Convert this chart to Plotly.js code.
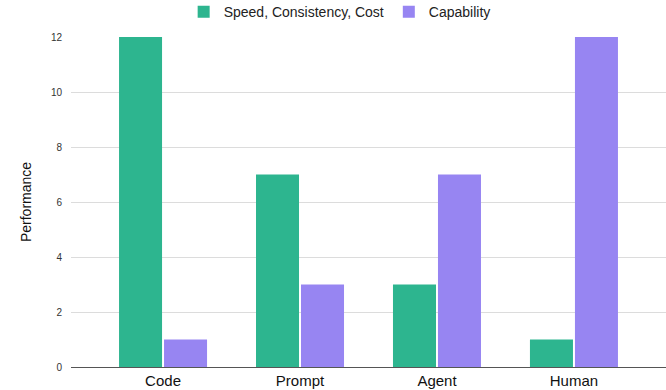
<!DOCTYPE html>
<html>
<head>
<meta charset="utf-8">
<script src="https://cdn.plot.ly/plotly-3.0.1.min.js"></script>
<style>
  html, body { margin: 0; padding: 0; background: #fff; }
  #chart { width: 666px; height: 390px; }
</style>
</head>
<body>
<div id="chart"></div>
<script>
// Approaches compared on two criteria
const categories = ['Code', 'Prompt', 'Agent', 'Human'];
const speedConsistencyCost = [12, 7, 3, 1];
const capability = [1, 3, 7, 12];
const seriesNames = ['Speed, Consistency, Cost', 'Capability'];
const yTicks = [0, 2, 4, 6, 8, 10, 12];

const font = 'Liberation Sans, Arial, sans-serif';

const traces = [
  {
    type: 'bar',
    name: seriesNames[0],
    x: categories,
    y: speedConsistencyCost,
    marker: { color: '#2db58f' },
    hoverinfo: 'x+y'
  },
  {
    type: 'bar',
    name: seriesNames[1],
    x: categories,
    y: capability,
    marker: { color: '#9785f2' },
    hoverinfo: 'x+y'
  }
];

const layout = {
  width: 666,
  height: 390,
  margin: { l: 71, r: 0, t: 37, b: 23, autoexpand: false },
  paper_bgcolor: '#ffffff',
  plot_bgcolor: '#ffffff',
  font: { family: font, color: '#222' },
  barmode: 'group',
  bargap: 0.343,
  bargroupgap: 0.044,
  showlegend: true,
  legend: {
    orientation: 'h',
    xref: 'container',
    yref: 'container',
    x: 0.51,
    xanchor: 'center',
    y: 0.969,
    yanchor: 'middle',
    font: { family: font, size: 14, color: '#222' },
    itemwidth: 30,
    traceorder: 'normal'
  },
  xaxis: {
    type: 'category',
    range: [-0.672, 3.672],
    automargin: false,
    tickangle: 0,
    showgrid: false,
    showline: false,
    zeroline: false,
    ticks: '',
    tickfont: { family: font, size: 15, color: '#111' },
    ticklabelstandoff: 3
  },
  yaxis: {
    range: [0, 12],
    automargin: false,
    tickvals: yTicks,
    ticktext: yTicks.map(String),
    showgrid: true,
    gridcolor: '#dcdcdc',
    gridwidth: 1,
    zeroline: true,
    zerolinecolor: '#555',
    zerolinewidth: 1,
    ticks: '',
    ticklabelstandoff: 8,
    tickfont: { family: font, size: 10, color: '#333' },
    title: {
      text: 'Performance',
      font: { family: font, size: 14, color: '#111' },
      standoff: 15
    }
  }
};

Plotly.newPlot('chart', traces, layout, { displayModeBar: false, staticPlot: true });
</script>
</body>
</html>
